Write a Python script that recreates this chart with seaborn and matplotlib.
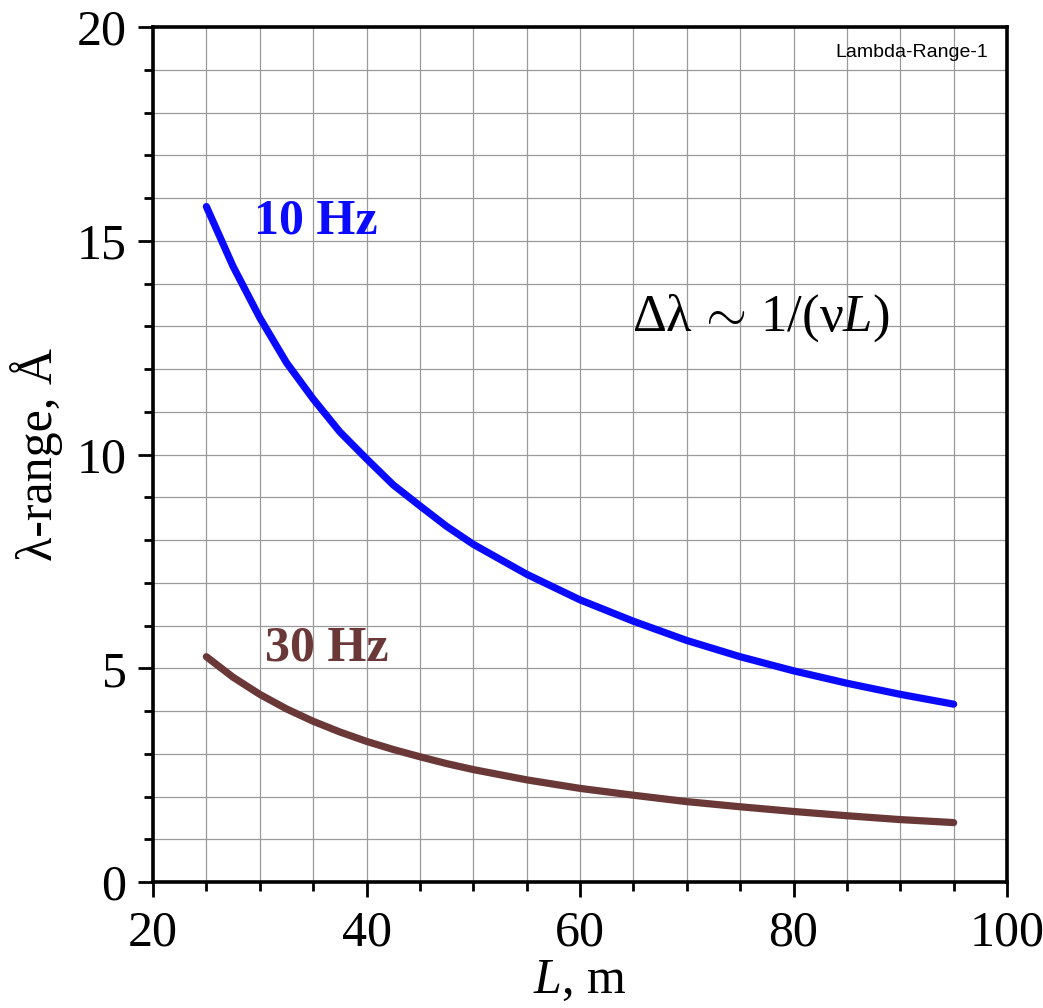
import numpy as np
import pandas as pd
import matplotlib
matplotlib.use("Agg")
import matplotlib.pyplot as plt
import seaborn as sns
from matplotlib.ticker import MultipleLocator

# Data
L_values = [25, 27.5, 30, 32.5, 35, 37.5, 40, 42.5, 45, 47.5, 50, 55, 60, 65, 70, 75, 80, 85, 90, 95]
range_10hz = [15.8, 14.4, 13.2, 12.15, 11.3, 10.53, 9.9, 9.29, 8.8, 8.32, 7.9, 7.2, 6.6, 6.1, 5.65,
              5.27, 4.94, 4.65, 4.39, 4.16]
range_30hz = [5.27, 4.79, 4.39, 4.05, 3.76, 3.51, 3.29, 3.10, 2.93, 2.77, 2.63, 2.39, 2.19, 2.03, 1.88,
              1.76, 1.65, 1.55, 1.46, 1.39]
series_labels = ["10 Hz", "30 Hz"]
series_colors = ["#0a0aff", "#6b3838"]

x_ticks = [20, 40, 60, 80, 100]
y_ticks = [0, 5, 10, 15, 20]

sns.set_theme(style="ticks")
plt.rcParams['font.family'] = ['Liberation Serif', 'DejaVu Serif']
plt.rcParams['mathtext.fontset'] = 'custom'
plt.rcParams['mathtext.rm'] = 'Liberation Serif'
plt.rcParams['mathtext.it'] = 'Liberation Serif:italic'
plt.rcParams['mathtext.bf'] = 'Liberation Serif:bold'

df = pd.DataFrame({
    "L": L_values * 2,
    "range": range_10hz + range_30hz,
    "freq": [series_labels[0]] * len(L_values) + [series_labels[1]] * len(L_values),
})

fig = plt.figure(figsize=(10.43, 10.08), dpi=100)
fig.patch.set_facecolor("white")
ax = fig.add_axes([0.1467, 0.125, 0.8188, 0.8482])

sns.lineplot(data=df, x="L", y="range", hue="freq", palette=series_colors,
             hue_order=series_labels, linewidth=5.2, legend=False, ax=ax)
for ln in ax.get_lines():
    ln.set_solid_capstyle("round")
    ln.set_solid_joinstyle("round")

ax.set_xlim(20, 100)
ax.set_ylim(0, 20)
ax.set_xticks(x_ticks)
ax.set_yticks(y_ticks)
ax.xaxis.set_minor_locator(MultipleLocator(5))
ax.yaxis.set_minor_locator(MultipleLocator(1))
ax.grid(which="both", color="#9a9a9a", linewidth=0.9)
ax.set_axisbelow(True)

for s in ax.spines.values():
    s.set_visible(True)
    s.set_color("black")
    s.set_linewidth(2.6)

ax.tick_params(axis="both", which="major", direction="out", length=11, width=2,
               labelsize=36, color="black", labelcolor="black")
ax.tick_params(axis="x", which="major", pad=9)
ax.tick_params(axis="y", which="major", pad=8)
ax.tick_params(axis="both", which="minor", direction="out", length=6.5, width=2, color="black")

ax.set_xlabel("$L$, m", fontsize=36, labelpad=1, color="black")
ax.set_ylabel("λ-range, Å", fontsize=36, labelpad=10, color="black")

ax.text(29.5, 15.45, series_labels[0], color=series_colors[0], fontsize=36,
        fontweight="bold", va="center", ha="left")
ax.text(30.5, 5.47, series_labels[1], color=series_colors[1], fontsize=36,
        fontweight="bold", va="center", ha="left")
ax.text(64.9, 13.2, "Δλ$\\,\\sim\\,$1/(ν$L$)", color="black", fontsize=38, va="center", ha="left")
ax.text(98.2, 19.4, "Lambda-Range-1", color="black", fontsize=14, va="center",
        ha="right", family=["Liberation Sans", "DejaVu Sans"])

fig.savefig("out.png", dpi=100, facecolor="white")
